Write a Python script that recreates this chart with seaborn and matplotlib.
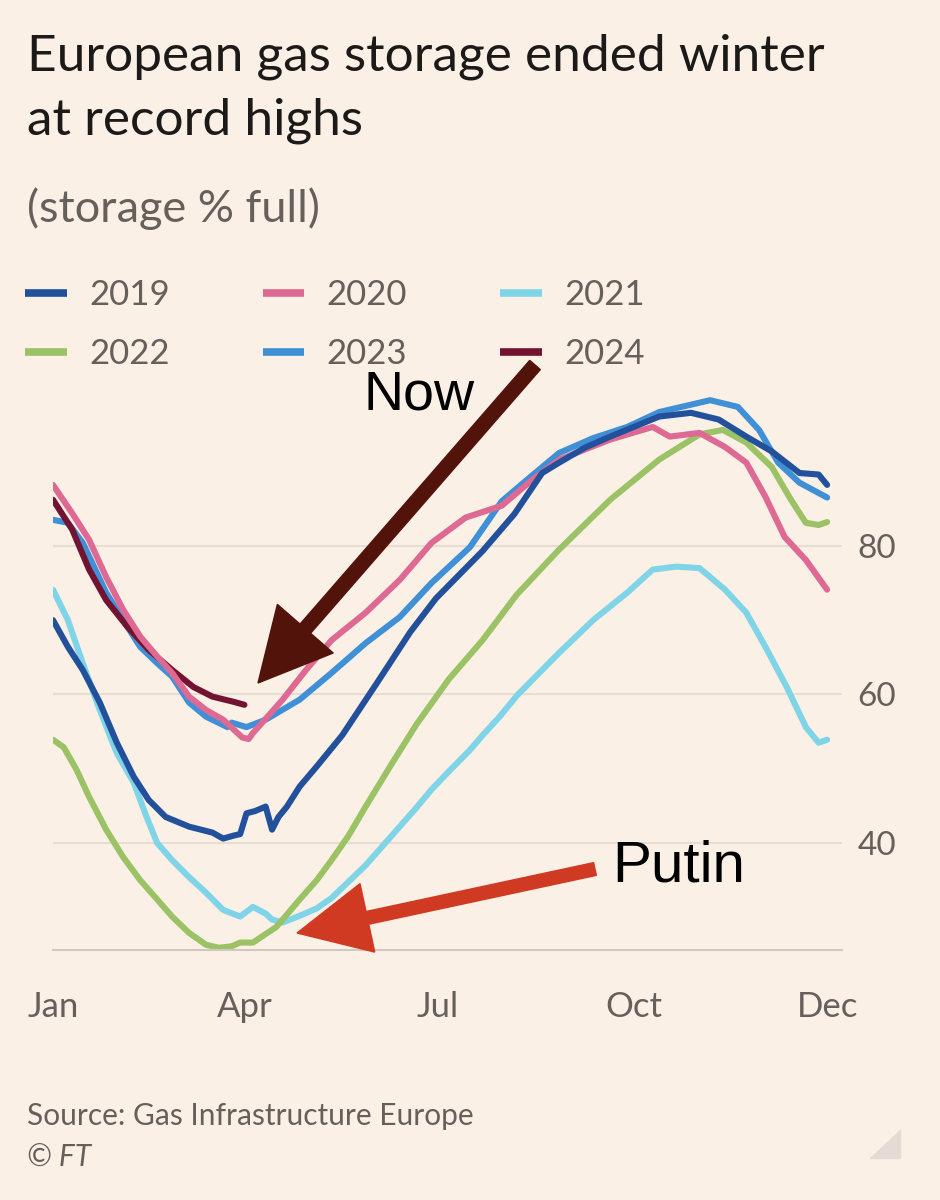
import matplotlib
matplotlib.use("Agg")
import matplotlib.pyplot as plt
import numpy as np
import pandas as pd
import seaborn as sns
from matplotlib.lines import Line2D
from matplotlib.patches import FancyArrow, Polygon

# ---------------- data (day of year, % full) ----------------
years = ["2019", "2020", "2021", "2022", "2023", "2024"]

days_2019 = [0, 7, 14, 22, 30, 38, 45, 53, 64, 75, 80, 85, 88, 91, 95, 100, 103, 106, 110, 116,
             124, 136, 152, 168, 180, 202, 217, 230, 238, 250, 262, 285, 300, 313, 326, 338, 351, 360, 364]
vals_2019 = [70.0, 66.4, 63.3, 58.9, 53.5, 48.9, 45.8, 43.5, 42.2, 41.4, 40.6, 41.0, 41.2, 44.0, 44.3, 44.9, 41.8, 43.5, 44.9, 47.6,
             50.3, 54.5, 61.4, 68.4, 72.9, 79.3, 84.3, 89.8, 91.2, 93.2, 94.7, 97.4, 97.9, 97.0, 94.7, 92.7, 89.8, 89.6, 88.2]

days_2020 = [0, 9, 17, 25, 33, 41, 49, 56, 64, 72, 80, 89, 92, 94, 108, 119, 131, 147, 163, 178,
             194, 211, 225, 238, 262, 282, 290, 304, 316, 326, 335, 344, 354, 364]
vals_2020 = [88.2, 84.4, 80.8, 75.8, 71.4, 67.8, 65.1, 62.9, 59.7, 57.9, 56.6, 54.2, 54.0, 54.8, 59.3, 63.3, 67.3, 71.0, 75.4, 80.4,
             83.8, 85.4, 88.8, 91.6, 94.3, 96.0, 94.7, 95.2, 93.3, 91.2, 86.6, 81.2, 78.1, 74.1]

days_2021 = [0, 7, 14, 22, 30, 38, 44, 49, 56, 64, 72, 80, 88, 94, 100, 103, 108, 116, 124, 131,
             139, 147, 155, 163, 171, 178, 186, 196, 202, 210, 218, 229, 238, 254, 270, 282, 293, 304, 316, 326,
             335, 345, 354, 360, 364]
vals_2021 = [74.1, 70.0, 64.2, 57.9, 52.1, 48.1, 43.5, 40.0, 37.7, 35.4, 33.3, 31.0, 30.1, 31.4, 30.5, 29.7, 29.3, 30.2, 31.2, 32.6,
             34.8, 37.0, 39.6, 42.2, 44.8, 47.2, 49.6, 52.5, 54.5, 57.0, 59.8, 63.0, 65.6, 70.0, 73.7, 76.8, 77.2, 77.0, 74.1, 71.0,
             66.4, 61.0, 55.6, 53.5, 53.9]

days_2022 = [0, 5, 11, 17, 25, 33, 41, 49, 56, 64, 72, 78, 84, 88, 94, 105, 116, 124, 131, 139,
             147, 160, 171, 186, 202, 218, 238, 262, 285, 304, 315, 326, 338, 347, 354, 360, 364]
vals_2022 = [53.9, 52.9, 49.9, 46.2, 41.8, 38.1, 35.0, 32.4, 30.1, 27.9, 26.3, 25.9, 26.1, 26.6, 26.6, 28.7, 32.4, 35.0, 37.7, 41.0,
             44.9, 51.0, 56.0, 62.0, 67.3, 73.4, 79.5, 86.2, 91.6, 95.0, 95.6, 93.9, 90.6, 86.2, 83.1, 82.8, 83.2]

days_2023 = [0, 7, 14, 25, 33, 41, 49, 56, 64, 72, 82, 84, 91, 100, 116, 131, 147, 163, 178, 196,
             211, 225, 238, 254, 270, 285, 300, 309, 322, 332, 341, 351, 364]
vals_2023 = [83.5, 83.1, 80.4, 73.7, 70.0, 66.4, 64.2, 62.4, 58.9, 57.0, 55.6, 56.2, 55.6, 56.6, 59.3, 62.9, 66.9, 70.4, 75.0, 79.8,
             86.0, 89.4, 92.5, 94.5, 96.0, 98.0, 99.0, 99.6, 98.7, 95.6, 91.2, 88.5, 86.5]

days_2024 = [0, 9, 17, 25, 35, 45, 56, 66, 75, 85, 90]
vals_2024 = [86.2, 82.2, 76.8, 72.7, 69.1, 66.0, 63.3, 61.0, 59.7, 59.0, 58.6]

tick_days = [0, 90, 181, 273, 364]
tick_labels = ["Jan", "Apr", "Jul", "Oct", "Dec"]
y_ticks = [40, 60, 80]

series = {
    "2019": (days_2019, vals_2019),
    "2020": (days_2020, vals_2020),
    "2021": (days_2021, vals_2021),
    "2022": (days_2022, vals_2022),
    "2023": (days_2023, vals_2023),
    "2024": (days_2024, vals_2024),
}

palette = {
    "2019": "#22509A",
    "2020": "#DE6A94",
    "2021": "#80D4E8",
    "2022": "#9CC266",
    "2023": "#3F90D6",
    "2024": "#731332",
}

frames = []
for y, (d, v) in series.items():
    frames.append(pd.DataFrame({"day": d, "pct": v, "year": y}))
df = pd.concat(frames, ignore_index=True)

# ---------------- style ----------------
BG = "#FBF0E6"
GREY = "#66605C"
sns.set_style("white")
plt.rcParams["font.family"] = ["Lato", "DejaVu Sans"]

W, H = 940, 1200
fig = plt.figure(figsize=(W / 100, H / 100), dpi=100)
fig.patch.set_facecolor(BG)

ax_left, ax_right, ax_top, ax_bottom = 53, 842, 395, 950
ax = fig.add_axes([ax_left / W, 1 - ax_bottom / H, (ax_right - ax_left) / W, (ax_bottom - ax_top) / H])
ax.set_facecolor(BG)

draw_order = ["2021", "2022", "2023", "2024", "2020", "2019"]
sns.lineplot(data=df, x="day", y="pct", hue="year", hue_order=draw_order, palette=palette,
             linewidth=4.4, legend=False, ax=ax, sort=False, estimator=None)

ax.set_xlim(0, 371)
ax.set_ylim(25.6, 100.3)
ax.set_xlabel("")
ax.set_ylabel("")

ax.set_yticks(y_ticks)
ax.yaxis.tick_right()
ax.tick_params(axis="y", length=0, pad=11, labelsize=24, labelcolor=GREY)
ax.grid(axis="y", color="#E6DDD5", linewidth=1.5)
ax.grid(axis="x", visible=False)
ax.set_axisbelow(True)

ax.set_xticks(tick_days)
ax.set_xticklabels(tick_labels)
ax.tick_params(axis="x", length=16.5, width=1.3, color="#D0C8C1", pad=13, labelsize=25, labelcolor=GREY)

for s in ["top", "left", "right"]:
    ax.spines[s].set_visible(False)
ax.spines["bottom"].set_color("#D0C8C1")
ax.spines["bottom"].set_linewidth(1.5)

# ---------------- titles ----------------
fig.text(27 / W, 1 - 70 / H, "European gas storage ended winter", fontsize=37, color="#1C1A19", va="baseline")
fig.text(27 / W, 1 - 135 / H, "at record highs", fontsize=37, color="#1C1A19", va="baseline")
fig.text(27 / W, 1 - 222 / H, "(storage % full)", fontsize=32.5, color=GREY, va="baseline")

# ---------------- legend ----------------
legend_order = ["2019", "2022", "2020", "2023", "2021", "2024"]
handles = [Line2D([0], [0], color=palette[y], lw=5.5, solid_capstyle="butt") for y in legend_order]
fig.legend(handles, legend_order, loc="upper left", bbox_to_anchor=(25 / W, 1 - 279 / H),
           ncol=3, frameon=False, fontsize=25, handlelength=1.2, handletextpad=0.65,
           columnspacing=2.67, labelspacing=0.78, borderaxespad=0, borderpad=0, labelcolor=GREY)

# ---------------- annotations ----------------
def px(x, y):
    return x / 100, (H - y) / 100

tx, ty = px(535, 365)
hx, hy = px(258, 683)
fig.add_artist(FancyArrow(tx, ty, hx - tx, hy - ty, width=0.14, head_width=0.74, head_length=0.72,
                          length_includes_head=True, color="#52130A", transform=fig.dpi_scale_trans))
tx, ty = px(595, 869)
hx, hy = px(297, 933)
fig.add_artist(FancyArrow(tx, ty, hx - tx, hy - ty, width=0.13, head_width=0.70, head_length=0.72,
                          length_includes_head=True, color="#D03A22", transform=fig.dpi_scale_trans))

fig.text(363 / W, 1 - 410 / H, "Now", fontsize=40, family=["Liberation Sans", "DejaVu Sans"],
         color="black", va="baseline")
fig.text(612 / W, 1 - 882 / H, "Putin", fontsize=42, family=["Liberation Sans", "DejaVu Sans"],
         color="black", va="baseline")

# ---------------- footer ----------------
fig.text(27 / W, 1 - 1125 / H, "Source: Gas Infrastructure Europe", fontsize=21.5, color=GREY, va="baseline")
fig.text(27 / W, 1 - 1167 / H, "© FT", fontsize=21.5, color=GREY, va="baseline", style="italic")
fig.add_artist(Polygon([px(870, 1158), px(900, 1158), px(900, 1130)], closed=True,
                       color="#E3DBD4", transform=fig.dpi_scale_trans))

fig.savefig("out.png", dpi=100, facecolor=BG)
